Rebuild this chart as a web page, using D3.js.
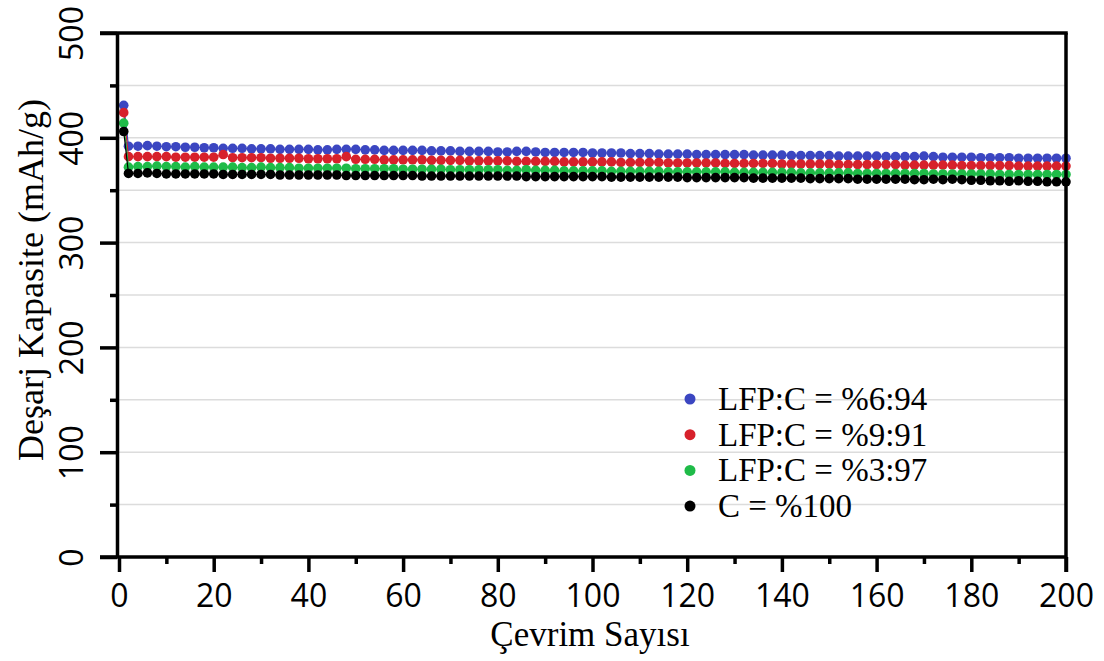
<!DOCTYPE html>
<html>
<head>
<meta charset="utf-8">
<script src="https://cdn.jsdelivr.net/npm/d3@7"></script>
<style>
  body { margin: 0; background: white; }
</style>
</head>
<body>
<script>

    // Cycle numbers (first cycle, then every second cycle)
    var cycles = [1, 2, 4, 6, 8, 10, 12, 14, 16, 18, 20, 22, 24, 26, 28, 30, 32, 34, 36, 38, 40,
        42, 44, 46, 48, 50, 52, 54, 56, 58, 60, 62, 64, 66, 68, 70, 72, 74, 76, 78, 80,
        82, 84, 86, 88, 90, 92, 94, 96, 98, 100, 102, 104, 106, 108, 110, 112, 114, 116, 118, 120,
        122, 124, 126, 128, 130, 132, 134, 136, 138, 140, 142, 144, 146, 148, 150, 152, 154, 156, 158, 160,
        162, 164, 166, 168, 170, 172, 174, 176, 178, 180, 182, 184, 186, 188, 190, 192, 194, 196, 198, 200];

    var seriesNames = ['LFP:C = %6:94', 'LFP:C = %9:91', 'LFP:C = %3:97', 'C = %100'];
    var seriesColors = ['#3b46c1', '#d7212b', '#1fbb48', '#000000'];

    var lfp694 = [431,
        392, 392, 392.5, 392, 391.5, 391.5, 391, 391, 390.5, 390.5,
        390, 390, 390, 389.5, 389.5, 389.5, 389, 389, 389, 389,
        388.5, 388.5, 389, 389, 389, 388.5, 388.5, 388, 388, 388,
        388, 388, 387.5, 387.5, 387.5, 387, 387, 387, 387, 386.5,
        386.5, 387, 387, 386.5, 386, 386, 386, 386, 386, 385.5,
        385.5, 385.5, 385.5, 385, 385, 385, 384.5, 384.5, 384.5, 384.5,
        384, 384, 384, 384, 384, 384, 383.5, 383.5, 383.5, 383.5,
        383, 383, 383, 383, 383, 382.5, 382.5, 382.5, 382.5, 382.5,
        382, 382, 382, 382, 382.5, 382, 381.5, 381.5, 381.5, 381.5,
        381, 381, 381, 381, 380.5, 380.5, 380.5, 380.5, 380.5, 380.5];

    var lfp991 = [424,
        382, 382, 382, 382, 382, 381.5, 381.5, 381.5, 381.5, 381.5,
        384, 381, 381, 381, 381, 380.5, 380.5, 380.5, 380.5, 380,
        380, 380, 380, 382, 379.5, 379.5, 379.5, 379, 379, 379,
        379, 379, 378.5, 378.5, 378.5, 378.5, 378, 378, 378, 378,
        378, 377.5, 377.5, 377.5, 377.5, 377.5, 377, 377, 377, 377,
        377, 377, 376.5, 376.5, 376.5, 376.5, 376.5, 376, 376, 376,
        376, 376, 376, 375.5, 375.5, 375.5, 375.5, 375.5, 375.5, 375,
        375, 375, 375, 375, 375, 374.5, 374.5, 374.5, 374.5, 374.5,
        374.5, 374.5, 374, 374, 374, 374, 374, 374, 373.5, 373.5,
        373.5, 373.5, 373.5, 373.5, 373, 373, 373, 373, 373, 373];

    var lfp397 = [414,
        372, 372.5, 372.5, 373, 372.5, 372.5, 372, 372.5, 372, 372,
        372, 372, 371.5, 371.5, 372, 371.5, 371.5, 371.5, 371, 371,
        371, 371, 371, 371, 370.5, 370.5, 370.5, 370.5, 370.5, 370,
        370, 370, 370, 370, 369.5, 369.5, 369.5, 369.5, 369.5, 369.5,
        369, 369, 369.5, 369, 369, 369, 368.5, 368.5, 368.5, 368.5,
        368.5, 368, 368, 368, 368, 368, 368, 367.5, 367.5, 367.5,
        367.5, 367.5, 367.5, 367.5, 367, 367, 367, 367, 367, 367,
        367, 366.5, 366.5, 366.5, 366.5, 366.5, 366.5, 366, 366, 366,
        366, 366, 366, 366, 366, 365.5, 365.5, 365.5, 365.5, 365.5,
        365.5, 365.5, 365, 365, 365, 365, 365, 365, 365, 365];

    var c100 = [406,
        366, 366, 366.5, 366, 365.5, 365.5, 365.5, 365.5, 365.5, 365.5,
        365, 365, 365, 365, 365, 365, 364.5, 364.5, 364.5, 364.5,
        364.5, 364.5, 364.5, 364, 364, 364, 364, 364, 364, 364,
        364, 363.5, 363.5, 363.5, 363.5, 363.5, 363.5, 363.5, 363.5, 363.5,
        363.5, 363.5, 363, 363, 363, 363, 363, 363, 363, 363,
        363, 362.5, 362.5, 362.5, 362.5, 362.5, 362.5, 362.5, 362.5, 362,
        362, 362, 362, 362, 362, 362, 361.5, 361.5, 361.5, 361.5,
        361.5, 361.5, 361, 361, 361, 361, 361, 360.5, 360.5, 360.5,
        360.5, 360.5, 360.5, 360, 360, 360.5, 360, 360.5, 360, 359.5,
        359.5, 359, 359, 358.5, 359, 358.5, 358.5, 358, 358, 358];

    var seriesValues = [lfp694, lfp991, lfp397, c100];

    var xTicks = [0, 20, 40, 60, 80, 100, 120, 140, 160, 180, 200];
    var yTicks = [0, 100, 200, 300, 400, 500];

    var width = 1104, height = 661;

    var svg = d3.select('body').append('svg')
        .attr('width', width)
        .attr('height', height);

    // Scales
    var xScale = d3.scaleLinear().domain([0, 200]).range([119, 1066]);
    var yScale = d3.scaleLinear().domain([0, 500]).range([557, 33]);
    var axisX = 117;

    // Horizontal grid lines every 50
    svg.append('g')
       .selectAll('line')
       .data(d3.range(50, 500, 50))
       .enter()
       .append('line')
       .attr('x1', axisX)
       .attr('x2', xScale(200))
       .attr('y1', function(d) { return yScale(d); })
       .attr('y2', function(d) { return yScale(d); })
       .attr('stroke', '#dcdcdc')
       .attr('stroke-width', 1.5);

    // Series: thin line with dots
    var line = d3.line()
        .x(function(d) { return xScale(d.x); })
        .y(function(d) { return yScale(d.y); });

    seriesValues.forEach(function(vals, i) {
        var pts = vals.map(function(v, j) { return {x: cycles[j], y: v}; });
        var g = svg.append('g');
        g.append('path')
         .datum(pts)
         .attr('d', line)
         .attr('fill', 'none')
         .attr('stroke', seriesColors[i])
         .attr('stroke-width', 1.2);
        g.selectAll('circle')
         .data(pts)
         .enter()
         .append('circle')
         .attr('cx', function(d) { return xScale(d.x); })
         .attr('cy', function(d) { return yScale(d.y); })
         .attr('r', 4.8)
         .attr('fill', seriesColors[i]);
    });

    // Frame: top and right borders
    svg.append('line')
       .attr('x1', 100).attr('x2', xScale(200) + 1.75)
       .attr('y1', yScale(500)).attr('y2', yScale(500))
       .attr('stroke', 'black').attr('stroke-width', 3.5);
    svg.append('line')
       .attr('x1', xScale(200)).attr('x2', xScale(200))
       .attr('y1', yScale(500)).attr('y2', 572)
       .attr('stroke', 'black').attr('stroke-width', 3.5);

    // Y axis (minor ticks first, then major)
    var yMinor = svg.append('g')
        .attr('transform', 'translate(' + axisX + ',0)')
        .call(d3.axisLeft(yScale).tickValues(d3.range(50, 500, 100)).tickSize(7).tickFormat(''));
    yMinor.select('.domain').remove();
    yMinor.selectAll('line').attr('stroke-width', 3.5);

    var yAxis = svg.append('g')
        .attr('transform', 'translate(' + axisX + ',0)')
        .call(d3.axisLeft(yScale).tickValues(yTicks).tickSize(17).tickSizeOuter(0));
    yAxis.select('.domain').attr('stroke-width', 3.5);
    yAxis.selectAll('line').attr('stroke-width', 3.5);
    yAxis.selectAll('text')
         .attr('x', 0).attr('dy', 0)
         .attr('transform', 'translate(-34,0) rotate(-90)')
         .style('text-anchor', 'middle')
         .attr('font-family', "'Open Sans', sans-serif")
         .attr('font-size', '32px')
         .attr('fill', 'black');

    // X axis
    var xMinor = svg.append('g')
        .attr('transform', 'translate(0,557)')
        .call(d3.axisBottom(xScale).tickValues(d3.range(10, 200, 20)).tickSize(7).tickFormat(''));
    xMinor.select('.domain').remove();
    xMinor.selectAll('line').attr('stroke-width', 3.5);

    var xAxis = svg.append('g')
        .attr('transform', 'translate(0,557)')
        .call(d3.axisBottom(xScale).tickValues(xTicks).tickSize(15).tickSizeOuter(0));
    xAxis.select('.domain').attr('d', 'M100,0H' + xScale(200)).attr('stroke-width', 3.5);
    xAxis.selectAll('line').attr('stroke-width', 3.5);
    xAxis.selectAll('text')
         .attr('y', 50).attr('dy', 0)
         .attr('font-family', "'Open Sans', sans-serif")
         .attr('font-size', '32px')
         .attr('fill', 'black');

    // Axis titles
    svg.append('text')
       .attr('transform', 'translate(43,280) rotate(-90)')
       .style('text-anchor', 'middle')
       .attr('font-family', "'Liberation Serif', 'Times New Roman', serif")
       .attr('font-size', '36px')
       .text('Deşarj Kapasite (mAh/g)');

    svg.append('text')
       .attr('x', 590)
       .attr('y', 646)
       .style('text-anchor', 'middle')
       .attr('font-family', "'Liberation Serif', 'Times New Roman', serif")
       .attr('font-size', '35px')
       .text('Çevrim Sayısı');

    // Legend
    var legend = svg.append('g')
        .selectAll('g')
        .data(seriesNames)
        .enter()
        .append('g')
        .attr('transform', function(d, i) { return 'translate(690,' + (399 + i * 35.7) + ')'; });

    legend.append('circle')
          .attr('r', 5.5)
          .attr('fill', function(d, i) { return seriesColors[i]; });

    legend.append('text')
          .attr('x', 28)
          .attr('y', 11)
          .attr('font-family', "'Liberation Serif', 'Times New Roman', serif")
          .attr('font-size', '33px')
          .text(function(d) { return d; });

</script>
</body>
</html>
